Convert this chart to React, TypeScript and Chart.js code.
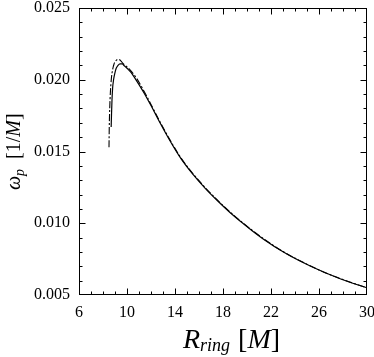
import React, { useEffect, useRef } from "react";
import { Chart, registerables } from "chart.js";

Chart.register(...registerables);

// Solid curve (R_ring, omega_p)
const solidR = [8.68, 8.71, 8.75, 8.8, 8.88, 8.97, 9.1, 9.25, 9.42, 9.6, 9.8, 10.0, 10.35, 10.67, 11.0, 11.42, 12.0, 12.75, 13.58, 14.5, 15.5, 16.5, 17.5, 18.58, 19.5, 20.4, 21.5, 23.0, 24.5, 26.0, 27.5, 29.0, 30.0];
const solidW = [0.0167, 0.0176, 0.0186, 0.0194, 0.0200, 0.0204, 0.0208, 0.0210, 0.0211, 0.0211, 0.02095, 0.0208, 0.0205, 0.0201, 0.01966, 0.01908, 0.0182, 0.0170, 0.01575, 0.0145, 0.0134, 0.01245, 0.0116, 0.01075, 0.0101, 0.0095, 0.00882, 0.00801, 0.00733, 0.00674, 0.00622, 0.00577, 0.0055];

// Dashed curve
const dashR = [8.5, 8.52, 8.56, 8.62, 8.7, 8.8, 8.92, 9.05, 9.2, 9.35, 9.5, 9.7, 10.0, 10.4, 10.8, 11.42, 12.0, 12.75, 13.58, 14.5, 15.5, 16.5, 17.5, 18.58, 19.5, 20.4, 21.5, 23.0, 24.5, 26.0, 27.5, 29.0, 30.0];
const dashW = [0.0153, 0.0166, 0.0180, 0.0192, 0.0201, 0.0207, 0.0211, 0.0213, 0.0214, 0.0214, 0.0213, 0.0211, 0.0209, 0.02055, 0.0201, 0.0192, 0.01828, 0.01707, 0.01581, 0.01455, 0.01345, 0.0125, 0.01164, 0.01079, 0.01013, 0.00953, 0.00885, 0.00803, 0.00735, 0.00675, 0.00623, 0.00578, 0.00551];

const xTicks = [6, 10, 14, 18, 22, 26, 30];
const yTicks = [0.005, 0.01, 0.015, 0.02, 0.025];
const yTickLabels = ["0.005", "0.010", "0.015", "0.020", "0.025"];
const xMinorStep = 1;
const yMinorStep = 0.001;

const SERIF = "'Liberation Serif', 'DejaVu Serif', serif";

type Seg = { t: string; size: number; italic: boolean; dy: number; gap?: number };

function drawSegs(ctx: CanvasRenderingContext2D, segs: Seg[], x0: number, y0: number) {
  let x = x0;
  for (const s of segs) {
    x += s.gap || 0;
    ctx.font = `${s.italic ? "italic " : ""}${s.size}px ${SERIF}`;
    ctx.fillText(s.t, x, y0 + s.dy);
    x += ctx.measureText(s.t).width;
  }
}

const framePlugin = {
  id: "frame",
  afterDraw(chart: any) {
    const { ctx, chartArea: a, scales } = chart;
    const xs = scales.x;
    const ys = scales.y;
    ctx.save();
    ctx.strokeStyle = "#000";
    ctx.lineWidth = 1;
    const L = Math.round(a.left) + 0.5;
    const R = Math.round(a.right) - 0.5;
    const T = Math.round(a.top) + 0.5;
    const B = Math.round(a.bottom) - 0.5;
    ctx.strokeRect(L, T, R - L, B - T);
    ctx.beginPath();
    const xmin = xs.min, xmax = xs.max;
    const nx = Math.round((xmax - xmin) / xMinorStep);
    for (let i = 1; i < nx; i++) {
      const v = xmin + i * xMinorStep;
      const major = xTicks.some((t) => Math.abs(t - v) < 1e-9);
      const len = major ? 6 : 3;
      const px = Math.round(xs.getPixelForValue(v)) + 0.5;
      ctx.moveTo(px, B);
      ctx.lineTo(px, B - len);
      ctx.moveTo(px, T);
      ctx.lineTo(px, T + len);
    }
    const ymin = ys.min, ymax = ys.max;
    const ny = Math.round((ymax - ymin) / yMinorStep);
    for (let i = 1; i < ny; i++) {
      const v = ymin + i * yMinorStep;
      const major = yTicks.some((t) => Math.abs(t - v) < 1e-9);
      const len = major ? 6 : 3;
      const py = Math.round(ys.getPixelForValue(v)) + 0.5;
      ctx.moveTo(L, py);
      ctx.lineTo(L + len, py);
      ctx.moveTo(R, py);
      ctx.lineTo(R - len, py);
    }
    ctx.stroke();

    ctx.fillStyle = "#000";
    ctx.textBaseline = "alphabetic";
    ctx.textAlign = "left";
    // x title
    drawSegs(
      ctx,
      [
        { t: "R", size: 28, italic: true, dy: 0 },
        { t: "ring", size: 18, italic: true, dy: 3 },
        { t: "[", size: 28, italic: false, dy: 0, gap: 8 },
        { t: "M", size: 28, italic: true, dy: 0 },
        { t: "]", size: 28, italic: false, dy: 0 },
      ],
      183,
      348
    );
    // y title
    ctx.save();
    ctx.translate(20, 190);
    ctx.rotate(-Math.PI / 2);
    drawSegs(
      ctx,
      [
        { t: "ω", size: 20, italic: true, dy: 0 },
        { t: "p", size: 14, italic: true, dy: 4 },
        { t: "[1/", size: 20, italic: false, dy: 0, gap: 10 },
        { t: "M", size: 20, italic: true, dy: 0 },
        { t: "]", size: 20, italic: false, dy: 0 },
      ],
      0,
      0
    );
    ctx.restore();
    ctx.restore();
  },
};

export default function App() {
  const ref = useRef<HTMLCanvasElement | null>(null);
  useEffect(() => {
    document.body.style.margin = "0";
    const canvas = ref.current;
    if (!canvas) return;
    const chart = new Chart(canvas, {
      type: "line",
      data: {
        datasets: [
          {
            label: "solid",
            data: solidR.map((r, i) => ({ x: r, y: solidW[i] })),
            borderColor: "#000",
            borderWidth: 1.2,
            pointRadius: 0,
            cubicInterpolationMode: "monotone",
            fill: false,
          },
          {
            label: "dashed",
            data: dashR.map((r, i) => ({ x: r, y: dashW[i] })),
            borderColor: "#000",
            borderWidth: 1.1,
            borderDash: [7, 2, 2, 2],
            pointRadius: 0,
            cubicInterpolationMode: "monotone",
            fill: false,
          },
        ],
      },
      options: {
        animation: false,
        responsive: false,
        maintainAspectRatio: false,
        layout: { padding: { top: 8, right: 7, left: 0, bottom: 0 } },
        plugins: {
          legend: { display: false },
          tooltip: { enabled: false },
        },
        scales: {
          x: {
            type: "linear",
            min: 6,
            max: 30,
            grid: { display: false, drawTicks: false },
            border: { display: false },
            afterBuildTicks: (s: any) => {
              s.ticks = xTicks.map((v) => ({ value: v }));
            },
            afterFit: (s: any) => {
              s.height = 62;
              s.paddingLeft = 0;
              s.paddingRight = 0;
            },
            ticks: {
              autoSkip: false,
              maxRotation: 0,
              padding: 8,
              color: "#000",
              font: { family: SERIF, size: 16 },
              callback: (v: any) => String(v),
            },
          },
          y: {
            type: "linear",
            min: 0.005,
            max: 0.025,
            grid: { display: false, drawTicks: false },
            border: { display: false },
            afterBuildTicks: (s: any) => {
              s.ticks = yTicks.map((v) => ({ value: v }));
            },
            afterFit: (s: any) => {
              s.width = 79;
              s.paddingTop = 0;
              s.paddingBottom = 0;
            },
            ticks: {
              autoSkip: false,
              padding: 9,
              color: "#000",
              font: { family: SERIF, size: 16 },
              callback: (v: any) => {
                const i = yTicks.findIndex((t) => Math.abs(t - v) < 1e-9);
                return i >= 0 ? yTickLabels[i] : "";
              },
            },
          },
        },
      },
      plugins: [framePlugin],
    });
    return () => chart.destroy();
  }, []);
  return (
    <div style={{ width: 374, height: 357 }}>
      <canvas ref={ref} width={374} height={357} style={{ display: "block" }} />
    </div>
  );
}
